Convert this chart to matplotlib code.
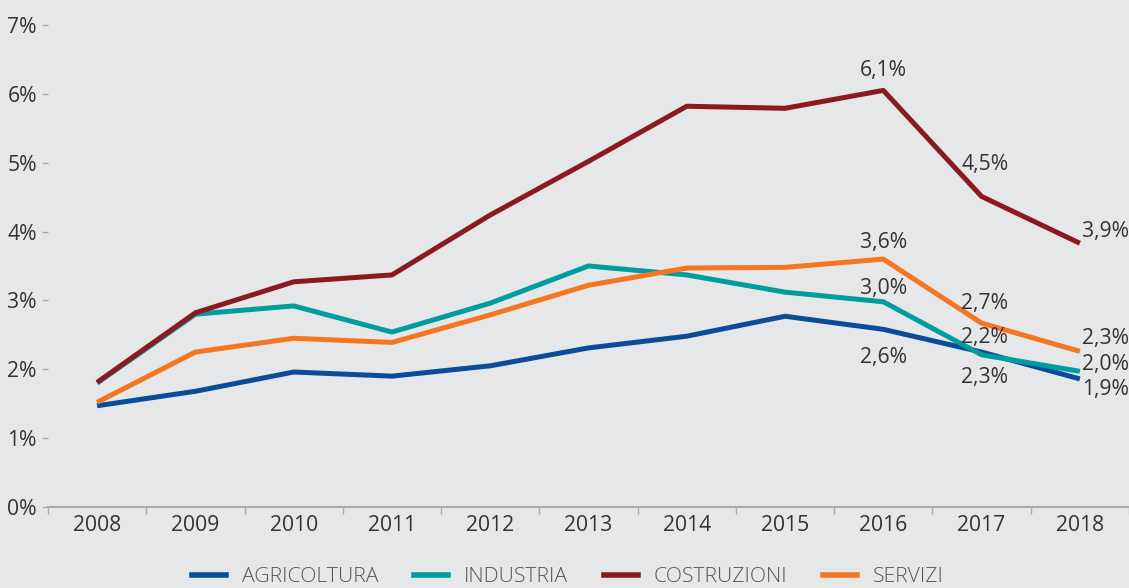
import matplotlib
matplotlib.use("Agg")
import matplotlib.pyplot as plt
from matplotlib.lines import Line2D

plt.rcParams['font.family'] = ['Open Sans', 'DejaVu Sans']

years = ["2008", "2009", "2010", "2011", "2012", "2013", "2014", "2015", "2016", "2017", "2018"]
agricoltura = [1.47, 1.68, 1.96, 1.90, 2.05, 2.31, 2.48, 2.77, 2.58, 2.25, 1.86]
industria = [1.80, 2.80, 2.92, 2.54, 2.96, 3.50, 3.37, 3.12, 2.98, 2.21, 1.97]
costruzioni = [1.81, 2.82, 3.27, 3.37, 4.24, 5.02, 5.82, 5.79, 6.05, 4.51, 3.83]
servizi = [1.52, 2.25, 2.45, 2.39, 2.79, 3.22, 3.47, 3.48, 3.60, 2.67, 2.26]
series_names = ["AGRICOLTURA", "INDUSTRIA", "COSTRUZIONI", "SERVIZI"]
yticks = [0, 1, 2, 3, 4, 5, 6, 7]

# labels: (series index, year index, text, offset dx px, dy px, ha)
labels = [
    (2, 8, "6,1%", 0, 20, "center"),
    (3, 8, "3,6%", 0, 17, "center"),
    (1, 8, "3,0%", 0, 13, "center"),
    (0, 8, "2,6%", 0, -28, "center"),
    (2, 9, "4,5%", 3, 32, "center"),
    (3, 9, "2,7%", 3, 20, "center"),
    (1, 9, "2,2%", 3, 17, "center"),
    (0, 9, "2,3%", 3, -25, "center"),
    (2, 10, "3,9%", 2, 12, "left"),
    (3, 10, "2,3%", 2, 13, "left"),
    (1, 10, "2,0%", 2, 7, "left"),
    (0, 10, "1,9%", 2, -11, "left"),
]

colors = ["#0a4c97", "#009ca0", "#8a1a1f", "#f47621"]
bg = "#e6e7e8"

data = [agricoltura, industria, costruzioni, servizi]

fig = plt.figure(figsize=(11.29, 5.88), dpi=100, facecolor=bg)
ax = fig.add_axes([0.0425, 0.1378, 0.9575, 0.8197], facecolor=bg)

x = list(range(len(years)))
for vals, c, n in zip(data, colors, series_names):
    ax.plot(x, vals, color=c, lw=3.6, solid_capstyle='butt', label=n)

fs = 15.2
for si, yi, txt, dx, dy, ha in labels:
    ax.annotate(txt, (yi, data[si][yi]), xytext=(dx * 0.72, dy * 0.72),
                textcoords='offset points', ha=ha, va='center',
                fontsize=fs, color='#333333')

ax.set_xlim(-0.5, len(years) - 0.5)
ax.set_ylim(0, 7)
ax.set_yticks(yticks)
ax.set_yticklabels([f"{v}%" for v in yticks], fontsize=fs, color='#333333')
ax.set_xticks(x)
ax.set_xticklabels(years, fontsize=fs, color='#333333')
ax.set_xticks([i - 0.5 for i in range(len(years) + 1)], minor=True)
ax.tick_params(axis='x', which='major', length=0, pad=6)
ax.tick_params(axis='x', which='minor', length=5, color='#aaaaaa', width=1)
ax.tick_params(axis='y', length=4, color='#aaaaaa', width=1, pad=4)
for s in ['top', 'right', 'left']:
    ax.spines[s].set_visible(False)
ax.spines['bottom'].set_color('#aaaaaa')
ax.spines['bottom'].set_linewidth(1.5)

handles = [Line2D([0], [0], color=c, lw=4.0) for c in colors]
leg = fig.legend(handles, series_names, loc='center', bbox_to_anchor=(0.503, 0.018),
                 ncol=4, frameon=False, fontsize=15.2, handlelength=1.6,
                 handletextpad=0.75, columnspacing=1.7,
                 prop={'family': ['Open Sans', 'DejaVu Sans'], 'weight': 'light', 'size': 15.2})
for t in leg.get_texts():
    t.set_color('#555555')

fig.savefig("out.png", dpi=100, facecolor=bg)
